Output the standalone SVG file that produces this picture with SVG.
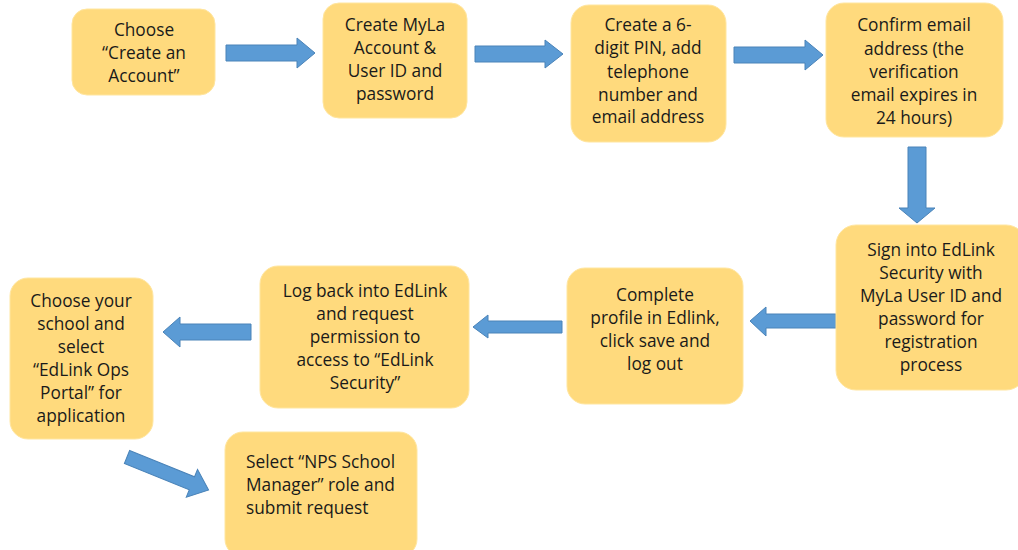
<svg xmlns="http://www.w3.org/2000/svg" width="1018" height="550" viewBox="0 0 1018 550">
<defs>
<style>
.n{fill:#FFDA7D;stroke:#FFE6A0;stroke-width:1}
.a{fill:#5B9BD5;stroke:#4A83B8;stroke-width:1}
text{font-family:"Open Sans","Noto Sans",sans-serif;font-size:17.3px;fill:#1a1a1a;text-anchor:middle}
</style>
<polygon id="ar" points="0,-7 70,-7 70,-15 88,0 70,15 70,7 0,7"/>
</defs>
<rect width="1018" height="550" fill="#fff"/>
<g id="connectors">
<polygon class="a" points="226,45 297,45 297,38 315,53 297,68 297,61 226,61"/>
<polygon class="a" points="475,46 545,46 545,40 563,54 545,68 545,62 475,62"/>
<polygon class="a" points="734,47 805,47 805,40 823,55 805,70 805,63 734,63"/>
<polygon class="a" points="908,147 926,147 926,208 935,208 917,223 899,208 908,208"/>
<polygon class="a" points="836,314 766,314 766,307 750,321 766,336 766,328 836,328"/>
<polygon class="a" points="562,321 488,321 488,315 473,327 488,338 488,333 562,333"/>
<polygon class="a" points="251,324 180,324 180,317 163,332 180,347 180,340 251,340"/>
<use href="#ar" class="a" transform="translate(127,457) rotate(22)"/>
</g>
<g id="n1"><rect class="n" x="72" y="9" width="143" height="86" rx="15"/>
<text x="144" y="36">Choose</text><text x="144" y="59">“Create an</text><text x="144" y="82">Account”</text></g>
<g id="n2"><rect class="n" x="323" y="3" width="144" height="115" rx="16"/>
<text x="395" y="31">Create MyLa</text><text x="395" y="54">Account &amp;</text><text x="395" y="77">User ID and</text><text x="395" y="100">password</text></g>
<g id="n3"><rect class="n" x="571" y="5" width="155" height="137" rx="18"/>
<text x="648" y="31">Create a 6-</text><text x="648" y="54">digit PIN, add</text><text x="648" y="78">telephone</text><text x="648" y="101">number and</text><text x="648" y="123">email address</text></g>
<g id="n4"><rect class="n" x="826" y="3" width="177" height="134" rx="18"/>
<text x="914" y="31">Confirm email</text><text x="914" y="55">address (the</text><text x="914" y="78">verification</text><text x="914" y="101">email expires in</text><text x="914" y="124">24 hours)</text></g>
<g id="n5"><rect class="n" x="836" y="225" width="190" height="165" rx="20"/>
<text x="931" y="256">Sign into EdLink</text><text x="931" y="279">Security with</text><text x="931" y="302">MyLa User ID and</text><text x="931" y="325">password for</text><text x="931" y="348">registration</text><text x="931" y="371">process</text></g>
<g id="n6"><rect class="n" x="567" y="268" width="176" height="136" rx="18"/>
<text x="655" y="301">Complete</text><text x="655" y="324">profile in Edlink,</text><text x="655" y="347">click save and</text><text x="655" y="370">log out</text></g>
<g id="n7"><rect class="n" x="260" y="266" width="209" height="142" rx="18"/>
<text x="365" y="297">Log back into EdLink</text><text x="365" y="320">and request</text><text x="365" y="343">permission to</text><text x="365" y="366">access to “EdLink</text><text x="365" y="389">Security”</text></g>
<g id="n8"><rect class="n" x="10" y="278" width="143" height="161" rx="18"/>
<text x="81" y="307">Choose your</text><text x="81" y="330">school and</text><text x="81" y="353">select</text><text x="81" y="376">“EdLink Ops</text><text x="81" y="399">Portal” for</text><text x="81" y="422">application</text></g>
<g id="n9"><rect class="n" x="225" y="432" width="192" height="125" rx="18"/>
<text x="246" y="468" style="text-anchor:start">Select “NPS School</text><text x="246" y="491" style="text-anchor:start">Manager” role and</text><text x="246" y="514" style="text-anchor:start">submit request</text></g>
</svg>
